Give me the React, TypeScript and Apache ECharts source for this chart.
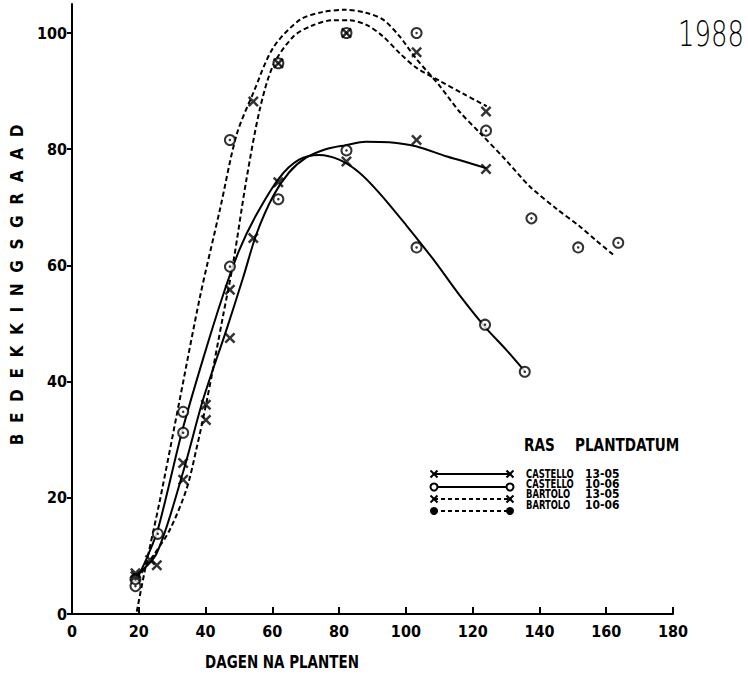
import React, { useEffect, useRef } from 'react';
import * as echarts from 'echarts';

const FONT = "'Liberation Sans Narrow', 'DejaVu Sans Condensed', sans-serif";

// Axis ticks
const yTickValues = [0, 20, 40, 60, 80, 100];

// Observations: days after planting and ground cover (%)
const castello1305Days = [19, 25.4, 33.3, 40.1, 47.3, 54.3, 61.8, 82.2, 103.2, 124];
const castello1305Cover = [6.5, 8.4, 23.1, 33.4, 47.5, 64.7, 74.3, 77.9, 81.6, 76.6];

const castello1006Days = [19, 25.7, 33.3, 47.3, 61.8, 82.2, 103.2, 123.7, 135.6];
const castello1006Cover = [4.8, 13.8, 31.2, 59.8, 71.4, 79.8, 63.1, 49.8, 41.7];

const bartolo1305Days = [19, 23.4, 33.3, 40.1, 47.3, 54.3, 61.8, 82.2, 103.2, 124];
const bartolo1305Cover = [7, 9.3, 26, 36, 55.8, 88.2, 94.8, 100, 96.7, 86.5];

const bartolo1006Days = [19, 33.3, 47.3, 61.8, 82.2, 103.2, 124, 137.6, 151.6, 163.6];
const bartolo1006Cover = [6, 34.8, 81.6, 94.8, 100, 100, 83.2, 68.1, 63.1, 63.9];

// Fitted curves
const castello1305CurveDays = [19, 25.4, 33.3, 39.3, 46.3, 51.3, 55.3, 60.3, 65, 70, 76, 82, 88, 95, 103, 112, 118, 124.2];
const castello1305CurveCover = [6.5, 10.5, 24.5, 37, 49, 58, 65.5, 72, 76, 78.5, 80, 80.7, 81.3, 81.2, 80.5, 78.8, 77.8, 76.7];

const castello1006CurveDays = [19, 22.3, 25.7, 33, 39.3, 45.3, 50, 55, 62, 68, 74, 80, 86, 92, 100, 108, 116.7, 124, 130, 136];
const castello1006CurveCover = [5.5, 9.5, 14.5, 31.5, 44, 55, 62.5, 68.5, 75, 78.2, 79, 78.2, 76, 72.5, 67, 61.2, 54.4, 49.2, 45.5, 41.5];

const bartolo1305CurveDays = [19.5, 24.3, 29.3, 34.3, 37.3, 40.3, 45.3, 48.3, 52.3, 56.3, 60.3, 66.3, 72, 78.2, 83, 88.2, 93, 98.2, 103.2, 110, 117, 124.2];
const bartolo1305CurveCover = [6, 10, 14.5, 21.5, 28.5, 36.5, 51.5, 60.5, 75, 87, 94.5, 99.4, 101.3, 102.2, 102.2, 101.4, 99.5, 96.5, 94, 91.8, 89.6, 87.4];

const bartolo1006CurveDays = [19.4, 22, 26.3, 32.3, 38.3, 44.3, 49.3, 54.3, 60.3, 68.3, 75, 81.7, 88, 93.2, 98, 103.2, 110, 116, 122.2, 130, 137.1, 145, 152.1, 157, 162.6];
const bartolo1006CurveCover = [0.4, 8, 19.5, 37, 54.5, 69.6, 82.5, 89.7, 97.5, 102.3, 103.6, 104, 103.5, 102.3, 99.5, 95.5, 91, 86.5, 82.8, 78.1, 73.6, 69.8, 66.7, 64.3, 61.6];

const pair = (xs: number[], ys: number[]) => xs.map((x, i) => [x, ys[i]]);

const CROSS = 'path://M0,1.6L1.6,0L5,3.4L8.4,0L10,1.6L6.6,5L10,8.4L8.4,10L5,6.6L1.6,10L0,8.4L3.4,5Z';

function curve(data: number[][], dashed: boolean) {
  return {
    type: 'line',
    data,
    smooth: 0.3,
    showSymbol: false,
    silent: true,
    z: 2,
    lineStyle: { color: '#000', width: 2, type: dashed ? [5, 3] : 'solid' },
  };
}

function crosses(data: number[][]) {
  return {
    type: 'scatter',
    data,
    symbol: CROSS,
    symbolSize: 11,
    z: 4,
    itemStyle: { color: '#000' },
  };
}

function rings(data: number[][]) {
  return [
    {
      type: 'scatter',
      data,
      symbol: 'circle',
      symbolSize: 10,
      z: 4,
      itemStyle: { color: '#fff', borderColor: '#000', borderWidth: 2 },
    },
    {
      type: 'scatter',
      data,
      symbol: 'circle',
      symbolSize: 2.5,
      z: 5,
      itemStyle: { color: '#000' },
    },
  ];
}

function legendCross(x: number, y: number) {
  const s = 3.5;
  return {
    type: 'group',
    children: [
      { type: 'line', shape: { x1: x - s, y1: y - s, x2: x + s, y2: y + s }, style: { stroke: '#000', lineWidth: 2 } },
      { type: 'line', shape: { x1: x - s, y1: y + s, x2: x + s, y2: y - s }, style: { stroke: '#000', lineWidth: 2 } },
    ],
  };
}

function legendRow(y: number, dashed: boolean, mark: 'cross' | 'ring' | 'dot') {
  const x1 = 434;
  const x2 = 510;
  const line = {
    type: 'line',
    shape: { x1, y1: y, x2, y2: y },
    style: { stroke: '#000', lineWidth: 2, lineDash: dashed ? [4, 3] : null },
  };
  const ends = [x1, x2].map((x) => {
    if (mark === 'cross') return legendCross(x, y);
    if (mark === 'ring')
      return { type: 'circle', shape: { cx: x, cy: y, r: 3.5 }, style: { fill: '#fff', stroke: '#000', lineWidth: 2 } };
    return { type: 'circle', shape: { cx: x, cy: y, r: 4 }, style: { fill: '#000' } };
  });
  return { type: 'group', children: [line, ...ends] };
}

const label = (
  x: number,
  y: number,
  text: string,
  size: number,
  sx: number,
  weight = 'bold',
  align = 'left',
  family = FONT
) => ({
  type: 'text',
  x,
  y,
  scaleX: sx,
  style: { text, fill: '#000', font: `${weight} ${size}px ${family}`, textAlign: align, textVerticalAlign: 'middle' },
});

export default function App() {
  const ref = useRef<HTMLDivElement>(null);

  useEffect(() => {
    if (!ref.current) return;
    const chart = echarts.init(ref.current, undefined, { renderer: 'svg' });
    const axisFont = { color: '#000', fontSize: 16, fontWeight: 'bold', fontFamily: FONT };

    chart.setOption({
      animation: false,
      backgroundColor: '#fff',
      grid: { left: 72, right: 75, top: 4, bottom: 65 },
      xAxis: {
        type: 'value',
        min: 0,
        max: 180,
        interval: 20,
        splitLine: { show: false },
        axisLine: { lineStyle: { color: '#000', width: 2 } },
        axisTick: { inside: true, length: 7, lineStyle: { color: '#000', width: 2 } },
        axisLabel: { ...axisFont, margin: 9 },
      },
      yAxis: {
        type: 'value',
        min: 0,
        max: 105,
        interval: 20,
        splitLine: { show: false },
        axisLine: { lineStyle: { color: '#000', width: 2 } },
        axisTick: { length: 5, customValues: yTickValues, lineStyle: { color: '#000', width: 2 } },
        axisLabel: { ...axisFont, margin: 5, customValues: yTickValues },
      },
      series: [
        curve(pair(castello1305CurveDays, castello1305CurveCover), false),
        curve(pair(castello1006CurveDays, castello1006CurveCover), false),
        curve(pair(bartolo1305CurveDays, bartolo1305CurveCover), true),
        curve(pair(bartolo1006CurveDays, bartolo1006CurveCover), true),
        ...rings(pair(castello1006Days, castello1006Cover)),
        ...rings(pair(bartolo1006Days, bartolo1006Cover)),
        crosses(pair(castello1305Days, castello1305Cover)),
        crosses(pair(bartolo1305Days, bartolo1305Cover)),
      ],
      graphic: [
        {
          type: 'text',
          x: 17,
          y: 285,
          rotation: Math.PI / 2,
          style: {
            text: 'B  E  D  E  K  K  I  N  G  S  G  R  A  A  D',
            fill: '#000',
            font: `bold 17px ${FONT}`,
            textAlign: 'center',
            textVerticalAlign: 'middle',
          },
        },
        label(282, 662, 'DAGEN NA PLANTEN', 17, 0.88, 'bold', 'center'),
        label(711, 33, '1988', 35, 0.74, '200', 'center', "'DejaVu Sans', sans-serif"),
        label(524, 445, 'RAS', 18, 0.84),
        label(575, 445, 'PLANTDATUM', 18, 0.84),
        legendRow(474, false, 'cross'),
        legendRow(487, false, 'ring'),
        legendRow(499, true, 'cross'),
        legendRow(511, true, 'dot'),
        label(526, 473, 'CASTELLO', 13, 0.72),
        label(585, 473, '13-05', 13, 0.92),
        label(526, 483, 'CASTELLO', 13, 0.72),
        label(585, 483, '10-06', 13, 0.92),
        label(526, 493, 'BARTOLO', 13, 0.72),
        label(585, 493, '13-05', 13, 0.92),
        label(526, 504, 'BARTOLO', 13, 0.72),
        label(585, 504, '10-06', 13, 0.92),
      ],
    });

    return () => chart.dispose();
  }, []);

  return <div ref={ref} style={{ position: 'absolute', left: 0, top: 0, width: 748, height: 679 }} />;
}
